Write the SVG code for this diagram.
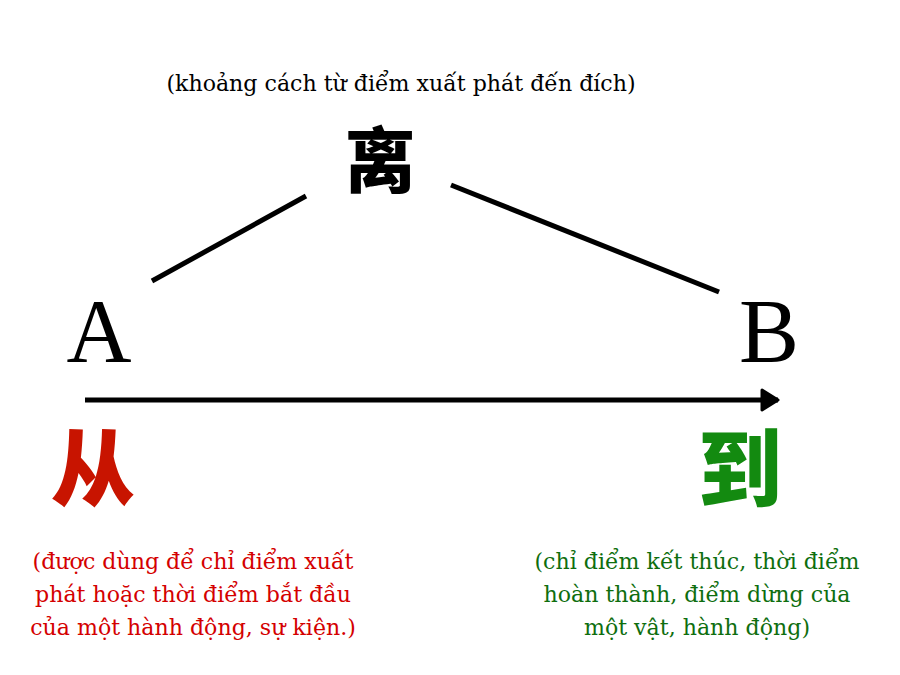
<svg xmlns="http://www.w3.org/2000/svg" width="900" height="675" viewBox="0 0 900 675">
<style>
.vi{font-family:"DejaVu Serif","Liberation Serif",serif;font-size:22.1px;text-anchor:middle}
.big{font-family:"Liberation Serif",serif;font-size:90px;text-anchor:middle;fill:#000}
.cjk{font-family:"Noto Sans CJK SC","Noto Sans CJK JP",sans-serif;font-weight:900;text-anchor:middle}
.ln{stroke:#000;stroke-width:5;fill:none}
</style>
<defs>
<marker id="ah" viewBox="0 0 10 12" refX="9" refY="6" markerWidth="4" markerHeight="4.8" orient="auto" markerUnits="strokeWidth">
<path d="M1,1 L9,6 L1,11 Z" fill="#000" stroke="#000" stroke-width="1.5" stroke-linejoin="round"/>
</marker>
</defs>
<rect width="900" height="675" fill="#fff"/>
<g id="connectors">
<line class="ln" x1="152" y1="281" x2="306" y2="196"/>
<line class="ln" x1="451" y1="185" x2="719" y2="292"/>
<line class="ln" x1="85" y1="400" x2="778" y2="400" marker-end="url(#ah)"/>
</g>
<g id="distance-note"><text class="vi" x="401" y="91" fill="#000">(khoảng cách từ điểm xuất phát đến đích)</text></g>
<g id="li"><text class="cjk" x="380" y="186" font-size="71" fill="#000">离</text></g>
<g id="A"><text class="big" x="99" y="362">A</text></g>
<g id="B"><text class="big" x="769" y="362">B</text></g>
<g id="cong"><text class="cjk" x="93" y="500" font-size="84" fill="#c81400">从</text>
<text class="vi" fill="#d40000"><tspan x="193" y="569">(được dùng để chỉ điểm xuất</tspan><tspan x="193" y="602">phát hoặc thời điểm bắt đầu</tspan><tspan x="193" y="635">của một hành động, sự kiện.)</tspan></text></g>
<g id="dao"><text class="cjk" x="740" y="500" font-size="84" fill="#138a10">到</text>
<text class="vi" fill="#0e6e0e"><tspan x="697" y="569">(chỉ điểm kết thúc, thời điểm</tspan><tspan x="697" y="602">hoàn thành, điểm dừng của</tspan><tspan x="697" y="635">một vật, hành động)</tspan></text></g>
</svg>
